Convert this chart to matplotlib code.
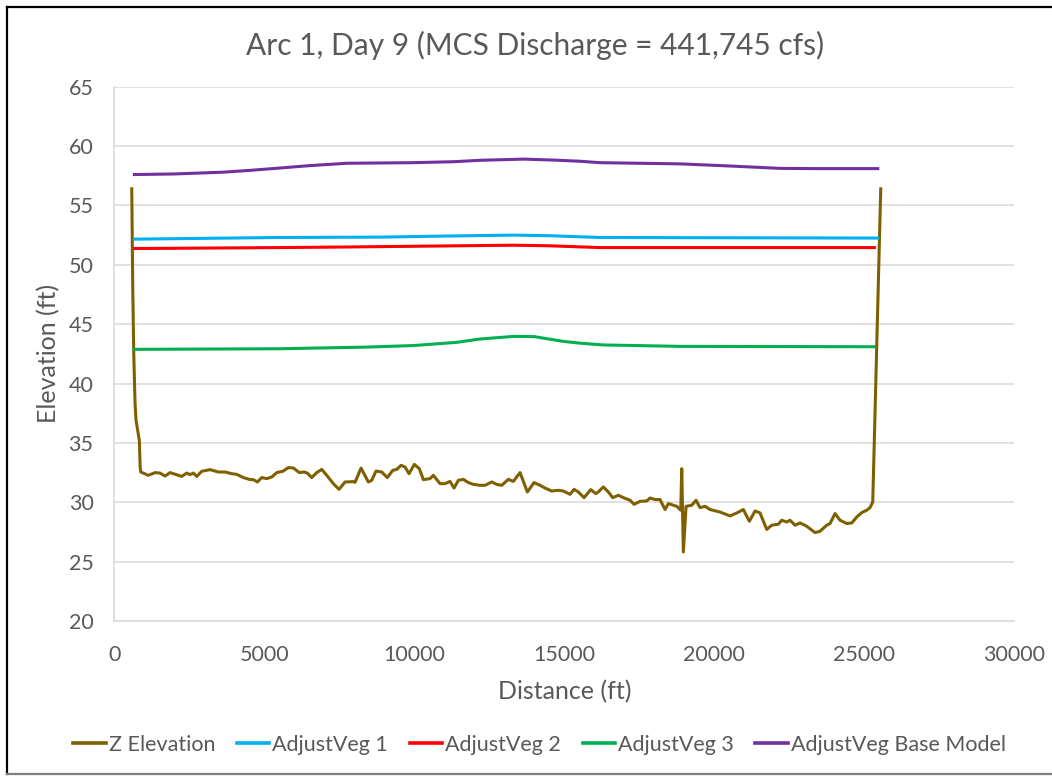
import matplotlib
matplotlib.use("Agg")
import matplotlib.pyplot as plt
from matplotlib.lines import Line2D

plt.rcParams['font.family'] = ['Lato', 'DejaVu Sans']

# Ground profile (Z Elevation)
z_dist = [580, 613, 647, 690, 723, 833, 860, 880, 1133, 1357, 1523, 1690, 1857, 2247, 2413,
          2523, 2633, 2747, 2913, 3190, 3467, 3690, 3913, 4080, 4300, 4523, 4633, 4767, 4913,
          5080, 5247, 5413, 5613, 5800, 5967, 6167, 6323, 6433, 6580, 6747, 6913, 7080, 7300,
          7490, 7690, 7967, 8023, 8223, 8467, 8580, 8723, 8913, 9100, 9280, 9413, 9557, 9690,
          9823, 10000, 10167, 10300, 10523, 10633, 10857, 11023, 11190, 11323, 11467, 11633,
          11800, 11967, 12190, 12357, 12580, 12747, 12913, 13133, 13300, 13523, 13767, 13990,
          14190, 14357, 14580, 14800, 14967, 15190, 15323, 15467, 15657, 15880, 16047, 16133,
          16300, 16467, 16613, 16800, 16967, 17190, 17323, 17523, 17747, 17857, 18023, 18190,
          18357, 18467, 18633, 18747, 18880, 18913, 18967, 19057, 19247, 19390, 19523, 19690,
          19857, 20190, 20523, 20747, 20967, 21167, 21357, 21523, 21747, 21913, 22133, 22247,
          22413, 22523, 22690, 22857, 23080, 23357, 23523, 23747, 23857, 24023, 24190, 24413,
          24580, 24747, 24913, 25080, 25190, 25280, 25547]
z_elev = [56.4, 48.1, 42.5, 38.3, 36.9, 35.2, 33.0, 32.55, 32.27, 32.50, 32.46, 32.21, 32.50,
          32.18, 32.46, 32.33, 32.46, 32.18, 32.61, 32.75, 32.55, 32.55, 32.41, 32.35, 32.08,
          31.91, 31.91, 31.71, 32.08, 31.99, 32.13, 32.50, 32.61, 32.92, 32.89, 32.50, 32.55,
          32.46, 32.08, 32.50, 32.77, 32.27, 31.57, 31.09, 31.71, 31.74, 31.68, 32.88, 31.71,
          31.85, 32.63, 32.55, 32.08, 32.69, 32.77, 33.11, 32.97, 32.41, 33.19, 32.83, 31.91,
          31.99, 32.27, 31.57, 31.57, 31.76, 31.20, 31.85, 31.93, 31.66, 31.51, 31.43, 31.43,
          31.71, 31.51, 31.43, 31.93, 31.76, 32.50, 30.87, 31.66, 31.43, 31.20, 30.95, 31.01,
          30.95, 30.67, 31.09, 30.87, 30.39, 31.07, 30.73, 30.87, 31.29, 30.87, 30.39, 30.59,
          30.39, 30.17, 29.83, 30.08, 30.11, 30.36, 30.23, 30.23, 29.39, 29.89, 29.75, 29.66,
          29.33, 32.83, 25.82, 29.66, 29.75, 30.17, 29.55, 29.66, 29.39, 29.18, 28.85, 29.10,
          29.39, 28.40, 29.27, 29.10, 27.71, 28.07, 28.15, 28.49, 28.34, 28.49, 28.07, 28.26,
          27.98, 27.45, 27.56, 28.07, 28.21, 29.05, 28.49, 28.21, 28.26, 28.76, 29.13, 29.33,
          29.55, 30.03, 56.4]

# Water surface profiles
veg1_dist = [667, 5523, 8857, 11000, 13300, 14500, 16190, 25447]
veg1_wse = [52.16, 52.30, 52.33, 52.42, 52.50, 52.45, 52.30, 52.25]

veg2_dist = [667, 5523, 7747, 13300, 14500, 16190, 25333]
veg2_wse = [51.37, 51.45, 51.50, 51.65, 51.60, 51.45, 51.45]

veg3_dist = [667, 5523, 8413, 9967, 11413, 12190, 13300, 14000, 14967, 15523, 16300, 18857, 25333]
veg3_wse = [42.88, 42.93, 43.07, 43.20, 43.47, 43.75, 43.97, 43.95, 43.55, 43.40, 43.25, 43.13, 43.10]

base_dist = [667, 2000, 3633, 4500, 5523, 6500, 7747, 9967, 11300, 12190, 13633, 14633, 15523,
             16190, 18857, 20523, 22190, 23300, 25447]
base_wse = [57.60, 57.65, 57.80, 57.95, 58.15, 58.35, 58.55, 58.60, 58.68, 58.80, 58.90, 58.82,
            58.72, 58.60, 58.50, 58.32, 58.12, 58.10, 58.10]

x_ticks = [0, 5000, 10000, 15000, 20000, 25000, 30000]
y_ticks = [20, 25, 30, 35, 40, 45, 50, 55, 60, 65]

series = [
    ("Z Elevation", z_dist, z_elev, "#7F6000"),
    ("AdjustVeg 1", veg1_dist, veg1_wse, "#00B0F0"),
    ("AdjustVeg 2", veg2_dist, veg2_wse, "#FF0000"),
    ("AdjustVeg 3", veg3_dist, veg3_wse, "#00B050"),
    ("AdjustVeg Base Model", base_dist, base_wse, "#7030A0"),
]

fig = plt.figure(figsize=(10.52, 7.76), dpi=100)
ax = fig.add_axes([0.1087, 0.1997, 0.8555, 0.6886])

handles = []
for name, xs, ys, col in series:
    ax.plot(xs, ys, color=col, lw=2.2, solid_joinstyle='round', zorder=3)
    handles.append(Line2D([], [], color=col, lw=2.6, label=name))

ax.set_xlim(0, 30000)
ax.set_ylim(20, 65)
ax.set_xticks(x_ticks)
ax.set_yticks(y_ticks)
ax.tick_params(length=0, labelsize=15.5, colors="#595959")
ax.tick_params(axis='y', pad=15)
ax.tick_params(axis='x', pad=17)
ax.grid(True, axis='y', color="#D9D9D9", lw=1.1, zorder=0)
for side in ("top", "right"):
    ax.spines[side].set_visible(False)
for side in ("left", "bottom"):
    ax.spines[side].set_color("#D9D9D9")
    ax.spines[side].set_linewidth(1.1)

fig.text(535 / 1052, 1 - 45 / 776, "Arc 1, Day 9 (MCS Discharge = 441,745 cfs)",
         fontsize=21.5, color="#595959", ha="center", va="center")
ax.set_xlabel("Distance (ft)", fontsize=18, color="#595959", labelpad=11)
ax.set_ylabel("Elevation (ft)", fontsize=18, color="#595959", labelpad=6)

fig.legend(handles=handles, loc="center", bbox_to_anchor=(0.513, 0.04), ncol=5, frameon=False,
           fontsize=15.5, handlelength=1.5, handletextpad=0.15, columnspacing=1.0,
           labelcolor="#595959")

# Outer frame of the chart area
fig.add_artist(Line2D([0.0065, 0.0065], [0.003, 0.991], transform=fig.transFigure, color="#000000", lw=1.6))
fig.add_artist(Line2D([0.0065, 0.999], [0.991, 0.991], transform=fig.transFigure, color="#000000", lw=1.6))
fig.add_artist(Line2D([0.0065, 0.999], [0.003, 0.003], transform=fig.transFigure, color="#7F7F7F", lw=1.6))

fig.savefig("out.png", dpi=100, facecolor="white")
